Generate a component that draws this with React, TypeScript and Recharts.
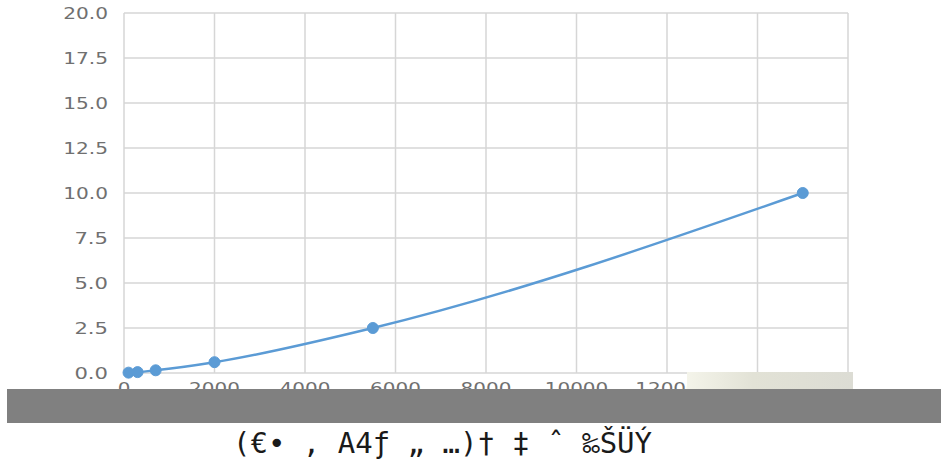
import React from "react"
import { LineChart, Line, XAxis, YAxis, CartesianGrid } from "recharts"

// concentration vs response
const concentrations = [100, 300, 700, 2000, 5500, 15000]
const responses = [0.02, 0.05, 0.15, 0.6, 2.5, 10]
const xTicks = [0, 2000, 4000, 6000, 8000, 10000, 12000, 14000, 16000]
const xLabels = ["0", "2000", "4000", "6000", "8000", "10000", "12000", "14000", ""]
const yTicks = [0, 2.5, 5, 7.5, 10, 12.5, 15, 17.5, 20]
const caption = "(€• , A4ƒ „ …)† ‡ ˆ ‰ŠÜÝ"

const data = concentrations.map((x, i) => ({ x, y: responses[i] }))

const labelFont = "'DejaVu Sans', sans-serif"

const YTick = (props: any) => {
  const { x, y, payload } = props
  const label = Number(payload.value).toFixed(1)
  const w = label.length * 11.2
  return (
    <text
      x={x - 8 - w}
      y={y + 6}
      fontSize={15}
      fontFamily={labelFont}
      fill="#707070"
      textLength={w}
      lengthAdjust="spacingAndGlyphs"
    >
      {label}
    </text>
  )
}

const XTick = (props: any) => {
  const { x, y, payload } = props
  const label = xLabels[xTicks.indexOf(payload.value)] ?? ""
  if (!label) return <g />
  const w = label.length * 12.7
  return (
    <text
      x={x - w / 2}
      y={y + 13}
      fontSize={15}
      fontFamily={labelFont}
      fill="#707070"
      textLength={w}
      lengthAdjust="spacingAndGlyphs"
    >
      {label}
    </text>
  )
}

export default function App() {
  return (
    <div style={{ position: "absolute", left: 0, top: 0, width: 942, height: 459, background: "#fff" }}>
      <LineChart width={942} height={459} data={data} margin={{ top: 13, right: 94, left: 64, bottom: 56 }}>
        <CartesianGrid stroke="#d6d6d6" strokeWidth={1.5} />
        <XAxis
          dataKey="x"
          type="number"
          domain={[0, 16000]}
          ticks={xTicks}
          interval={0}
          axisLine={false}
          tickLine={false}
          height={30}
          tick={<XTick />}
        />
        <YAxis
          type="number"
          domain={[0, 20]}
          ticks={yTicks}
          interval={0}
          axisLine={false}
          tickLine={false}
          width={60}
          tick={<YTick />}
        />
        <Line
          dataKey="y"
          type="monotone"
          stroke="#5b9bd5"
          strokeWidth={2.5}
          dot={{ r: 5.5, fill: "#5b9bd5", stroke: "#5b9bd5", strokeWidth: 1 }}
          isAnimationActive={false}
        />
      </LineChart>
      <div style={{ position: "absolute", left: 687, top: 372, width: 166, height: 17, background: "linear-gradient(90deg, #f4f4ea, #e2e2d6 40%, #dcdcd4)" }} />
      <div style={{ position: "absolute", left: 7, top: 389, width: 934, height: 34, background: "#808080" }} />
      <svg style={{ position: "absolute", left: 0, top: 423 }} width={942} height={36}>
        <text
          x={233}
          y={30}
          fontSize={28}
          fontFamily="'DejaVu Sans Mono', monospace"
          fill="#1a1a1a"
          textLength={419}
          lengthAdjust="spacingAndGlyphs"
        >
          {caption}
        </text>
      </svg>
    </div>
  )
}
